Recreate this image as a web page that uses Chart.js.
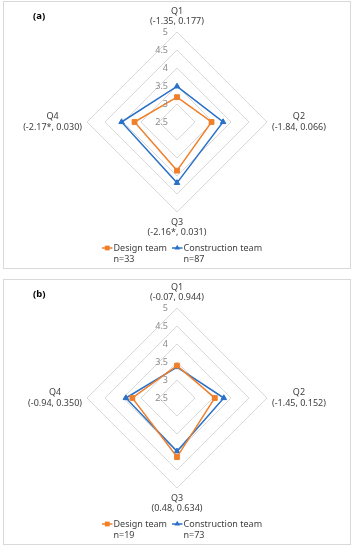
<!DOCTYPE html>
<html>
<head>
<meta charset="utf-8">
<script src="https://cdn.jsdelivr.net/npm/chart.js@4"></script>
<style>
  body { margin: 0; background: #fff; }
  .panel { position: absolute; left: 3px; width: 346px; border: 1px solid #d9d9d9; background: #fff; }
  .panel canvas { display: block; }
</style>
</head>
<body>
<div class="panel" style="top:1px;height:266px"><canvas id="chartA" width="346" height="266"></canvas></div>
<div class="panel" style="top:279px;height:264px"><canvas id="chartB" width="346" height="264"></canvas></div>
<script>
// categories + (t, p) under each question
const labelsA = [['Q1', '(-1.35, 0.177)'], ['Q2', '(-1.84, 0.066)'], ['Q3', '(-2.16*, 0.031)'], ['Q4', '(-2.17*, 0.030)']];
const labelsB = [['Q1', '(-0.07, 0.944)'], ['Q2', '(-1.45, 0.152)'], ['Q3', '(0.48, 0.634)'], ['Q4', '(-0.94, 0.350)']];

// mean scores
const designA = [3.19, 3.46, 3.85, 3.68];
const constructionA = [3.49, 3.78, 4.19, 4.04];
const designB = [3.40, 3.55, 4.14, 3.74];
const constructionB = [3.36, 3.80, 3.98, 3.92];

const seriesNames = ['Design team', 'Construction team'];
const sampleA = [33, 87];
const sampleB = [19, 73];

const FONT = '"Noto Sans", "Open Sans", sans-serif';
const ORANGE = '#f07f2a';
const BLUE = '#2a70c8';
const TEXT = '#404040';

// draws tick labels left of the axis, category labels, panel tag and legend
const radarDecor = {
    id: 'radarDecor',
    afterDraw(chart, args, opts) {
        const ctx = chart.ctx;
        const r = chart.scales.r;
        ctx.save();

        // tick labels
        ctx.font = '9px ' + FONT;
        ctx.fillStyle = '#8c8c8c';
        ctx.textAlign = 'right';
        ctx.textBaseline = 'middle';
        r.ticks.forEach(t => {
            const p = r.getPointPositionForValue(0, t.value);
            ctx.fillText(String(t.value), p.x - 9, p.y);
        });

        // category labels
        const lineH = 10.5;
        ctx.fillStyle = TEXT;
        ctx.textAlign = 'center';
        opts.labels.forEach((lines, i) => {
            const pos = r.getPointPosition(i, r.drawingArea + 5);
            const w = Math.max(...lines.map(s => ctx.measureText(s).width));
            let cx = pos.x, firstY;
            if (i === 0) firstY = pos.y - lineH * (lines.length - 0.5);
            else if (i === 2) firstY = pos.y + lineH / 2;
            else {
                firstY = pos.y - lineH * (lines.length - 1) / 2;
                cx = i === 1 ? pos.x + w / 2 : pos.x - w / 2;
            }
            lines.forEach((s, k) => ctx.fillText(s, cx, firstY + k * lineH));
        });

        // panel tag
        ctx.font = 'bold 9.5px ' + FONT;
        ctx.fillStyle = '#000';
        ctx.textAlign = 'left';
        ctx.fillText(opts.tag, 29, 14);

        // legend
        const ly = r.yCenter + r.drawingArea + 36;
        const items = [
            { x: r.xCenter - 75, ds: chart.data.datasets[0], n: opts.n[0] },
            { x: r.xCenter - 5, ds: chart.data.datasets[1], n: opts.n[1] }
        ];
        ctx.font = '9px ' + FONT;
        items.forEach(it => {
            ctx.strokeStyle = it.ds.borderColor;
            ctx.fillStyle = it.ds.borderColor;
            ctx.lineWidth = 1.5;
            ctx.beginPath();
            ctx.moveTo(it.x, ly);
            ctx.lineTo(it.x + 10.5, ly);
            ctx.stroke();
            Chart.helpers.drawPoint(ctx, {
                pointStyle: it.ds.pointStyle,
                radius: it.ds.pointRadius,
                borderWidth: 0
            }, it.x + 5.25, ly);
            ctx.fillStyle = TEXT;
            ctx.fillText(it.ds.label, it.x + 11.5, ly);
            ctx.fillText('n=' + it.n, it.x + 11.5, ly + 11);
        });

        ctx.restore();
    }
};

function makeRadar(canvasId, labels, design, construction, n, tag, padTop) {
    const canvas = document.getElementById(canvasId);
    const padBottom = canvas.height - padTop - 180;
    return new Chart(canvas, {
        type: 'radar',
        data: {
            labels: labels.map(l => l[0]),
            datasets: [
                {
                    label: seriesNames[0],
                    data: design,
                    borderColor: ORANGE,
                    backgroundColor: ORANGE,
                    pointBackgroundColor: ORANGE,
                    pointBorderColor: ORANGE,
                    pointStyle: 'rect',
                    pointRadius: 3.4,
                    pointBorderWidth: 1,
                    borderWidth: 1.5,
                    fill: false
                },
                {
                    label: seriesNames[1],
                    data: construction,
                    borderColor: BLUE,
                    backgroundColor: BLUE,
                    pointBackgroundColor: BLUE,
                    pointBorderColor: BLUE,
                    pointStyle: 'triangle',
                    pointRadius: 3.2,
                    pointBorderWidth: 1,
                    borderWidth: 1.5,
                    fill: false
                }
            ]
        },
        options: {
            responsive: false,
            animation: false,
            layout: { padding: { left: 83, right: 83, top: padTop, bottom: padBottom } },
            plugins: {
                legend: { display: false },
                tooltip: { enabled: false },
                radarDecor: { labels: labels, n: n, tag: tag }
            },
            scales: {
                r: {
                    min: 2.5,
                    max: 5,
                    ticks: { stepSize: 0.5, display: false },
                    grid: { color: '#d9d9d9', lineWidth: 1 },
                    angleLines: { display: false },
                    pointLabels: { display: false }
                }
            }
        },
        plugins: [radarDecor]
    });
}

makeRadar('chartA', labelsA, designA, constructionA, sampleA, '(a)', 30);
makeRadar('chartB', labelsB, designB, constructionB, sampleB, '(b)', 28);
</script>
</body>
</html>
